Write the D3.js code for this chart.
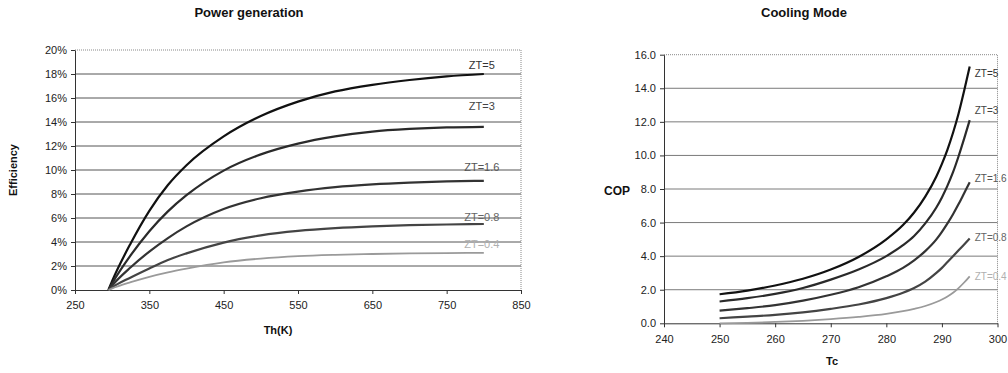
<!DOCTYPE html>
<html>
<head>
<meta charset="utf-8">
<script src="https://cdn.jsdelivr.net/npm/d3@7"></script>
<style>
  body { margin: 0; background: #fff; }
  svg { display: block; font-family: "Liberation Sans", Arial, sans-serif; }
  .tick text { font-size: 11px; fill: #222; }
  .title { font-size: 13px; font-weight: bold; fill: #111; }
  .axlabel { font-size: 11px; font-weight: bold; fill: #111; }
</style>
</head>
<body>
<script>
// ---- power generation (left) ----
var ztLabels = ["ZT=5", "ZT=3", "ZT=1.6", "ZT=0.8", "ZT=0.4"];
var thK = [295, 300, 325, 350, 375, 400, 450, 500, 550, 600, 650, 700, 750, 800];
var effZT5  = [0, 0.75, 3.9, 6.6, 8.75, 10.4, 12.8, 14.5, 15.7, 16.55, 17.1, 17.5, 17.8, 18.0];
var effZT3  = [0, 0.55, 2.9, 4.9, 6.55, 7.9, 9.95, 11.3, 12.2, 12.8, 13.2, 13.42, 13.55, 13.6];
var effZT16 = [0, 0.38, 1.9, 3.2, 4.33, 5.3, 6.75, 7.65, 8.2, 8.57, 8.8, 8.95, 9.05, 9.1];
var effZT08 = [0, 0.22, 1.05, 1.8, 2.5, 3.05, 3.95, 4.55, 4.92, 5.15, 5.3, 5.4, 5.46, 5.5];
var effZT04 = [0, 0.13, 0.65, 1.1, 1.47, 1.78, 2.3, 2.62, 2.82, 2.93, 3.0, 3.05, 3.08, 3.1];
var effTicks = [0, 0.02, 0.04, 0.06, 0.08, 0.10, 0.12, 0.14, 0.16, 0.18, 0.20];
var thTicks = [250, 350, 450, 550, 650, 750, 850];

// ---- cooling mode (right) ----
var tcK = [250, 255, 260, 265, 270, 275, 280, 283, 285, 287, 289, 290, 291, 292, 293, 294, 295];
var copZT5  = [1.73, 1.95, 2.25, 2.65, 3.2, 3.95, 5.0, 5.85, 6.6, 7.55, 8.75, 9.5, 10.35, 11.35, 12.5, 13.85, 15.3];
var copZT3  = [1.3, 1.5, 1.75, 2.1, 2.6, 3.2, 4.0, 4.65, 5.2, 5.95, 6.9, 7.5, 8.2, 9.0, 9.95, 11.0, 12.1];
var copZT16 = [0.75, 0.9, 1.08, 1.35, 1.7, 2.15, 2.8, 3.3, 3.75, 4.3, 5.0, 5.45, 5.95, 6.5, 7.1, 7.75, 8.4];
var copZT08 = [0.3, 0.4, 0.5, 0.65, 0.86, 1.12, 1.5, 1.82, 2.1, 2.48, 3.0, 3.3, 3.65, 4.0, 4.35, 4.7, 5.05];
var copZT04 = [0.0, 0.03, 0.08, 0.15, 0.25, 0.38, 0.56, 0.72, 0.86, 1.03, 1.27, 1.42, 1.6, 1.82, 2.1, 2.43, 2.8];
var copTicks = [0, 2, 4, 6, 8, 10, 12, 14, 16];
var tcTicks = [240, 250, 260, 270, 280, 290, 300];

// line styles per series (darkest = ZT=5)
var lineColors = ["#111", "#2a2a2a", "#333", "#444", "#9a9a9a"];
var labelColors = ["#333", "#444", "#555", "#666", "#b0b0b0"];
var leftLabelDy = [-9, -21, -14, -7, -9];
var rightLabelDy = [7, -10, -4, -1, 0];

var svg = d3.select("body").append("svg")
    .attr("width", 1008)
    .attr("height", 373);

function drawPanel(cfg) {
    var x = d3.scaleLinear().domain(cfg.xDomain).range(cfg.xRange);
    var y = d3.scaleLinear().domain(cfg.yDomain).range(cfg.yRange);
    var g = svg.append("g");

    // gridlines (skip bottom axis and top border)
    g.selectAll("line.grid")
        .data(cfg.yTicks.slice(1, -1))
        .enter().append("line")
        .attr("class", "grid")
        .attr("x1", cfg.xRange[0]).attr("x2", cfg.xRange[1])
        .attr("y1", function(d) { return y(d); })
        .attr("y2", function(d) { return y(d); })
        .attr("stroke", cfg.gridColor)
        .attr("stroke-width", 1);

    // dotted top + right border
    var top = y(cfg.yDomain[1]);
    g.append("path")
        .attr("d", "M" + cfg.xRange[0] + "," + top + "H" + cfg.xRange[1] + "V" + cfg.yRange[0])
        .attr("fill", "none")
        .attr("stroke", "#888")
        .attr("stroke-dasharray", "1,1");

    g.append("g")
        .attr("transform", "translate(0," + cfg.yRange[0] + ")")
        .call(d3.axisBottom(x).tickValues(cfg.xTicks).tickSize(4).tickSizeOuter(0).tickPadding(cfg.xPad).tickFormat(d3.format("d")));
    g.append("g")
        .attr("transform", "translate(" + cfg.xRange[0] + ",0)")
        .call(d3.axisLeft(y).tickValues(cfg.yTicks).tickSize(4).tickSizeOuter(0).tickPadding(4).tickFormat(cfg.yFormat));
    g.selectAll(".domain").attr("stroke", "#333");
    g.selectAll(".tick line").attr("stroke", "#333");

    var line = d3.line()
        .x(function(d) { return x(d[0]); })
        .y(function(d) { return y(d[1]); })
        .curve(d3.curveMonotoneX);

    cfg.series.forEach(function(vals, i) {
        var pts = cfg.xs.map(function(t, j) { return [t, vals[j]]; });
        g.append("path")
            .datum(pts)
            .attr("d", line)
            .attr("fill", "none")
            .attr("stroke", lineColors[i])
            .attr("stroke-width", i == 4 ? 1.8 : 2.2);
        var last = pts[pts.length - 1];
        g.append("text")
            .attr("x", x(last[0]) + cfg.labelDx)
            .attr("y", y(last[1]) + cfg.labelDy[i])
            .attr("dy", "0.35em")
            .attr("text-anchor", cfg.labelAnchor)
            .style("font-size", cfg.labelSize)
            .attr("fill", labelColors[i])
            .text(ztLabels[i]);
    });
}

drawPanel({
    xDomain: [250, 850], xRange: [75, 521],
    yDomain: [0, 0.2], yRange: [290, 50],
    xTicks: thTicks, yTicks: effTicks, xPad: 7,
    yFormat: d3.format(".0%"),
    gridColor: "#555",
    xs: thK,
    series: [effZT5, effZT3, effZT16, effZT08, effZT04].map(function(s) { return s.map(function(v) { return v / 100; }); }),
    labelDx: -2, labelDy: leftLabelDy, labelAnchor: "middle", labelSize: "11px"
});

drawPanel({
    xDomain: [240, 300], xRange: [664, 997.5],
    yDomain: [0, 16], yRange: [323.3, 54.7],
    xTicks: tcTicks, yTicks: copTicks, xPad: 8,
    yFormat: d3.format(".1f"),
    gridColor: "#7a7a7a",
    xs: tcK,
    series: [copZT5, copZT3, copZT16, copZT08, copZT04],
    labelDx: 5, labelDy: rightLabelDy, labelAnchor: "start", labelSize: "10px"
});

// titles & axis labels
svg.append("text").attr("class", "title").attr("x", 249).attr("y", 17).attr("text-anchor", "middle").text("Power generation");
svg.append("text").attr("class", "axlabel").attr("x", 278).attr("y", 334).attr("text-anchor", "middle").text("Th(K)");
svg.append("text").attr("class", "axlabel")
    .attr("transform", "translate(17,170) rotate(-90)")
    .attr("text-anchor", "middle").text("Efficiency");

svg.append("text").attr("class", "title").attr("x", 804).attr("y", 17).attr("text-anchor", "middle").text("Cooling Mode");
svg.append("text").attr("class", "axlabel").attr("x", 832).attr("y", 365).attr("text-anchor", "middle").text("Tc");
svg.append("text").attr("class", "axlabel").style("font-size", "12px").attr("x", 617).attr("y", 195).attr("text-anchor", "middle").text("COP");
</script>
</body>
</html>
